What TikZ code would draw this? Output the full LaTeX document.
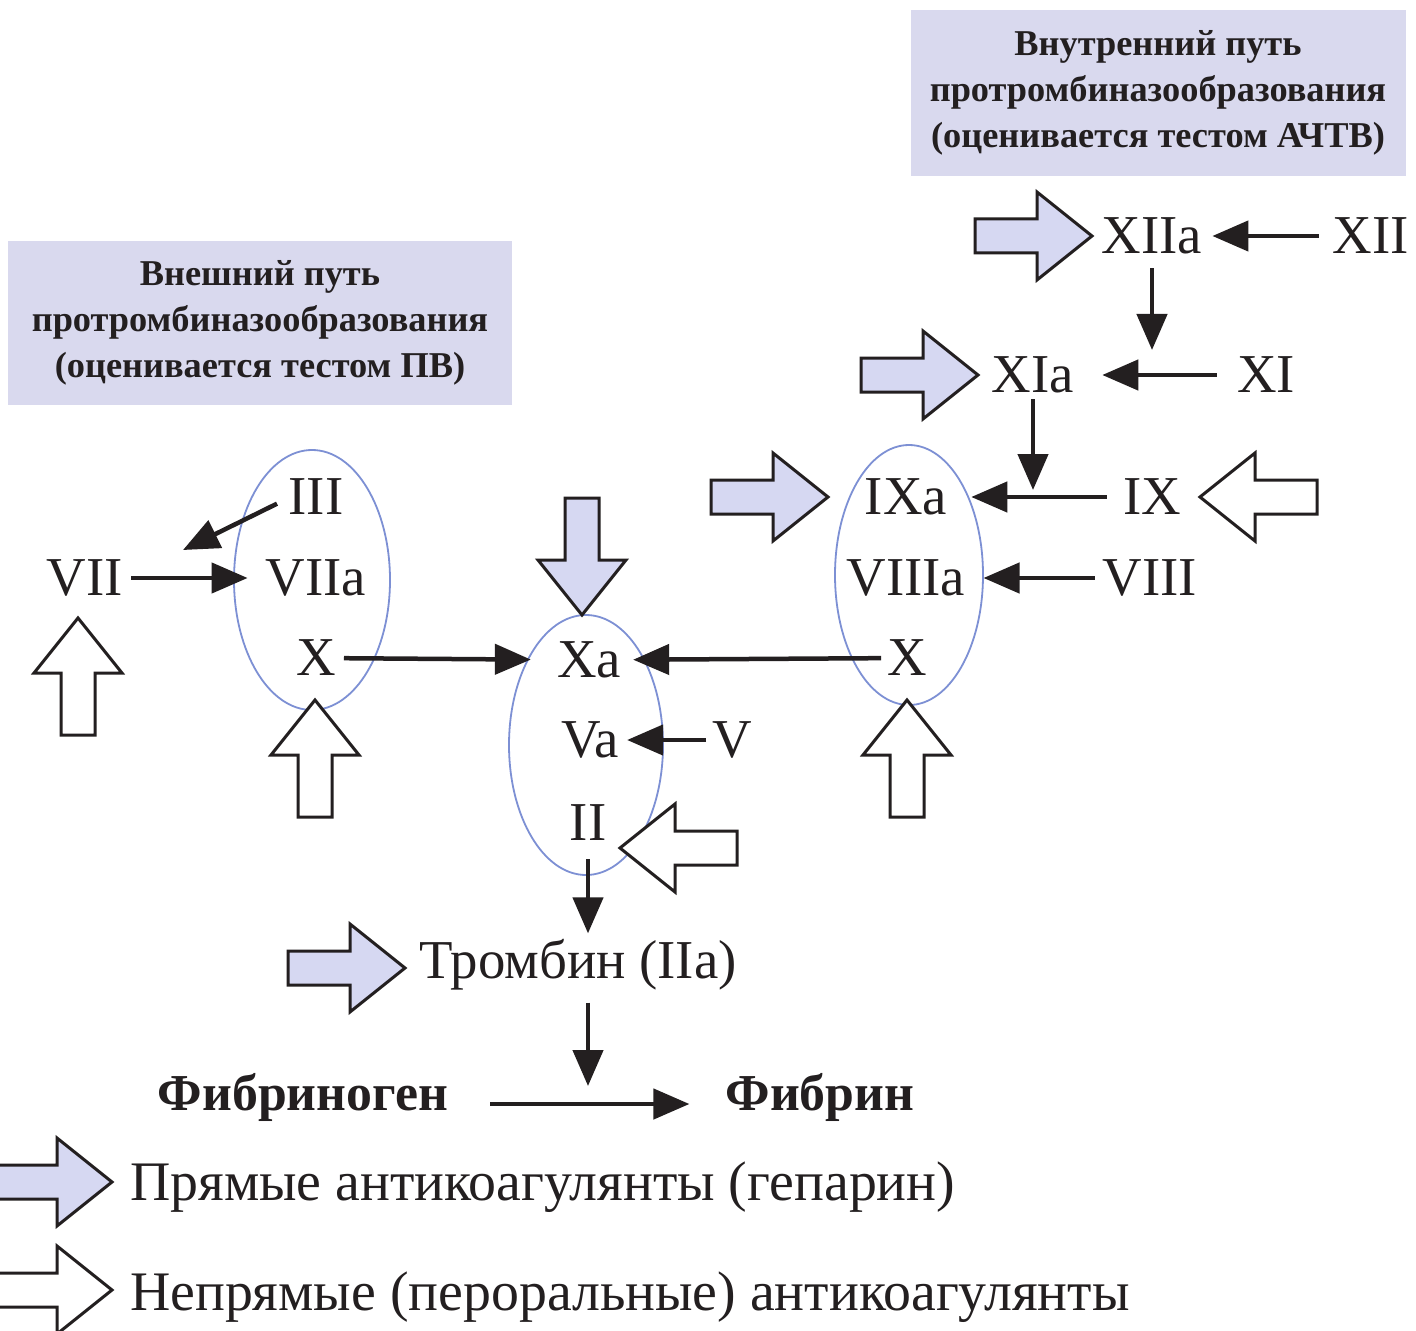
\documentclass[tikz,border=0pt]{standalone}
\usepackage{fontspec}
\setmainfont{Liberation Serif}
\usetikzlibrary{arrows.meta}
\definecolor{boxfill}{HTML}{D9D9EE}
\definecolor{arrfill}{HTML}{D6D8F2}
\definecolor{ellc}{HTML}{7D90D4}
\definecolor{ink}{HTML}{231F20}
\newcommand\blockarr[4]{\begin{scope}[shift={(#1,#2)},rotate=#3]
\draw[blockarrow,#4] (0,0)--(-55,44)--(-55,17)--(-117,17)--(-117,-17)--(-55,-17)--(-55,-44)--cycle;
\end{scope}}
\tikzset{
  lbl/.style={inner sep=6bp, text=ink, font=\fontsize{55}{60}\selectfont},
  boldlbl/.style={inner sep=6bp, text=ink, font=\fontsize{52}{60}\selectfont\bfseries},
  legend/.style={inner sep=0bp, anchor=west, text=ink, font=\fontsize{56}{60}\selectfont},
  header/.style={fill=boxfill, draw=none, text=ink, align=center, inner sep=0bp,
    font=\fontsize{36.5}{46}\selectfont\bfseries},
  thinarr/.style={draw=ink, line width=4.5bp, -{Triangle[length=36bp,width=30bp]}},
  blockarrow/.style={draw=ink, line width=3bp, line join=miter},
  direct/.style={fill=arrfill},
  indirect/.style={fill=white},
  oval/.style={draw=ellc, line width=1.8bp}
}
\begin{document}
\begin{tikzpicture}[x=1bp,y=-1bp]
\fill[white] (0,0) rectangle (1416,1331);
\useasboundingbox (0,0) rectangle (1416,1331);

% header boxes
\node[header, minimum width=495bp, minimum height=166bp] (hdrin) at (1158,93)
  {Внутренний путь\\протромбиназообразования\\(оценивается тестом АЧТВ)};
\node[header, minimum width=504bp, minimum height=163bp] (hdrex) at (260,323)
  {Внешний путь\\протромбиназообразования\\(оценивается тестом ПВ)};

% ellipses
\draw[oval] (312,580) ellipse [x radius=78, y radius=130];
\draw[oval] (586,745) ellipse [x radius=77, y radius=130];
\draw[oval] (909,575) ellipse [x radius=74, y radius=130];

% labels
\node[lbl] (XIIa) at (1152,236) {XIIa};
\node[lbl] (XII) at (1371,236) {XII};
\node[lbl] (XIa) at (1033,375) {XIa};
\node[lbl] (XI) at (1266,375) {XI};
\node[lbl] (IXa) at (906,497) {IXa};
\node[lbl] (IX) at (1152,497) {IX};
\node[lbl] (VIIIa) at (906,578) {VIIIa};
\node[lbl] (VIII) at (1150,578) {VIII};
\node[lbl] (Xr) at (907,658) {X};
\node[lbl] (III) at (316,497) {III};
\node[lbl] (VIIa) at (316,578) {VIIa};
\node[lbl] (Xl) at (316,658) {X};
\node[lbl] (VII) at (85,578) {VII};
\node[lbl] (Xa) at (589,660) {Xa};
\node[lbl] (Va) at (590,740) {Va};
\node[lbl] (V) at (732,740) {V};
\node[lbl] (II) at (588,823) {II};
\node[lbl] (Thr) at (578,965) {Тромбин (IIa)};
\node[boldlbl] (Fg) at (303,1097) {Фибриноген};
\node[boldlbl] (Fb) at (820,1097) {Фибрин};
\node[legend] (L1) at (130,1187) {Прямые антикоагулянты (гепарин)};
\node[legend] (L2) at (130,1297) {Непрямые (пероральные) антикоагулянты};

% junction coordinates
\coordinate (j3) at (183,550);
\coordinate (j12) at (1152,350);
\coordinate (j11) at (1033,490);
\coordinate (jth) at (588,1086);

% thin arrows
\draw[thinarr, shorten <=8bp, shorten >=4bp] (XII) -- (XIIa);
\draw[thinarr, shorten <=8bp] (XIIa.south) -- (j12);
\draw[thinarr, shorten <=14bp, shorten >=22bp] (XI) -- (XIa);
\draw[thinarr] (XIa.south) -- (j11);
\draw[thinarr, shorten <=10bp, shorten >=18bp] (IX) -- (IXa);
\draw[thinarr, shorten <=2bp, shorten >=12bp] (VIII) -- (VIIIa);
\draw[thinarr, shorten <=0bp, shorten >=6bp] (Xr) -- (Xa);
\draw[thinarr, shorten <=2bp, shorten >=20bp] (Xl) -- (Xa);
\draw[thinarr, shorten <=0bp, shorten >=2bp] (V) -- (Va);
\draw[thinarr, shorten <=2bp, shorten >=12bp] (VII) -- (VIIa);
\draw[thinarr, shorten <=6bp] ([yshift=-4bp]III.west) -- (j3);
\draw[thinarr, shorten <=12bp] (II.south) -- (II.south |- Thr.north);
\draw[thinarr, shorten <=6bp] (Thr.south -| jth) -- (jth);
\draw[thinarr, shorten <=36bp, shorten >=30bp] ([yshift=-7bp]Fg.east) -- ([yshift=-7bp]Fb.west);

% block arrows: direct (filled)
\blockarr{1092}{236}{0}{direct}
\blockarr{978}{375}{0}{direct}
\blockarr{828}{497}{0}{direct}
\blockarr{582}{615}{-90}{direct}
\blockarr{405}{968}{0}{direct}
\blockarr{112}{1182}{0}{direct}
% block arrows: indirect (hollow)
\blockarr{78}{618}{90}{indirect}
\blockarr{315}{700}{90}{indirect}
\blockarr{907}{700}{90}{indirect}
\blockarr{620}{848}{180}{indirect}
\blockarr{1200}{497}{180}{indirect}
\blockarr{112}{1290}{0}{indirect}
\end{tikzpicture}
\end{document}
